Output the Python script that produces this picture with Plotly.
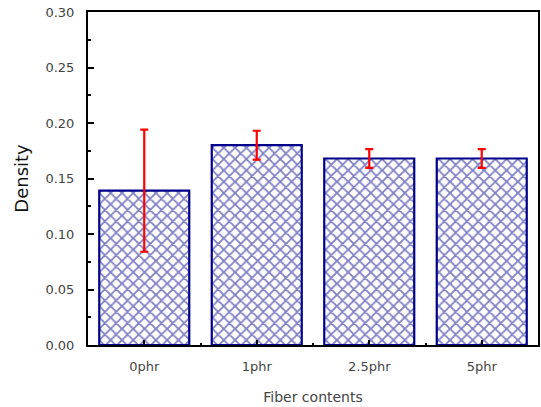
import plotly.graph_objects as go

categories = ["0phr", "1phr", "2.5phr", "5phr"]
density = [0.139, 0.180, 0.168, 0.168]
density_err = [0.055, 0.013, 0.0085, 0.0085]
y_ticks = [0.00, 0.05, 0.10, 0.15, 0.20, 0.25, 0.30]
y_tick_labels = ["0.00", "0.05", "0.10", "0.15", "0.20", "0.25", "0.30"]

xpos = list(range(len(categories)))
navy = "#00008B"

fig = go.Figure()
fig.add_trace(go.Bar(
    x=xpos, y=density, width=0.8,
    marker=dict(
        color="white",
        line=dict(color=navy, width=2.2),
        pattern=dict(shape="x", fgcolor=navy, bgcolor="white", size=8, solidity=0.4, fillmode="overlay"),
    ),
    error_y=dict(type="data", array=density_err, visible=True, color="red", thickness=2.2, width=4),
))

tick_font = dict(family="DejaVu Sans", size=13, color="#444444")
fig.update_layout(
    width=541, height=407,
    margin=dict(l=88, r=3, t=12, b=62, autoexpand=False),
    paper_bgcolor="white", plot_bgcolor="white",
    showlegend=False,
    xaxis=dict(
        range=[-0.5, 3.5], tickvals=xpos, ticktext=categories,
        showline=True, linecolor="black", linewidth=2, mirror=True,
        ticks="inside", ticklen=5, tickwidth=1.5, tickcolor="black",
        minor=dict(tickvals=[0.5, 1.5, 2.5], ticks="inside", ticklen=2, tickwidth=1.5, tickcolor="black"),
        showgrid=False, zeroline=False, tickfont=tick_font, automargin=False,
        ticklabelstandoff=8,
        title=dict(text="Fiber contents", font=dict(family="DejaVu Sans", size=14, color="#444444"), standoff=20),
    ),
    yaxis=dict(
        range=[0, 0.30], tickvals=y_ticks, ticktext=y_tick_labels,
        showline=True, linecolor="black", linewidth=2, mirror=True,
        ticks="inside", ticklen=6, tickwidth=1.5, tickcolor="black",
        minor=dict(dtick=0.025, ticks="inside", ticklen=3, tickwidth=1.5, tickcolor="black"),
        showgrid=False, zeroline=False, tickfont=tick_font, automargin=False,
        ticklabelstandoff=9,
        title=dict(text="Density", font=dict(family="DejaVu Sans", size=18, color="#111111"), standoff=12),
    ),
)

fig.write_html("out.html", config={"displayModeBar": False},
               post_script="document.body.style.margin='0';")
